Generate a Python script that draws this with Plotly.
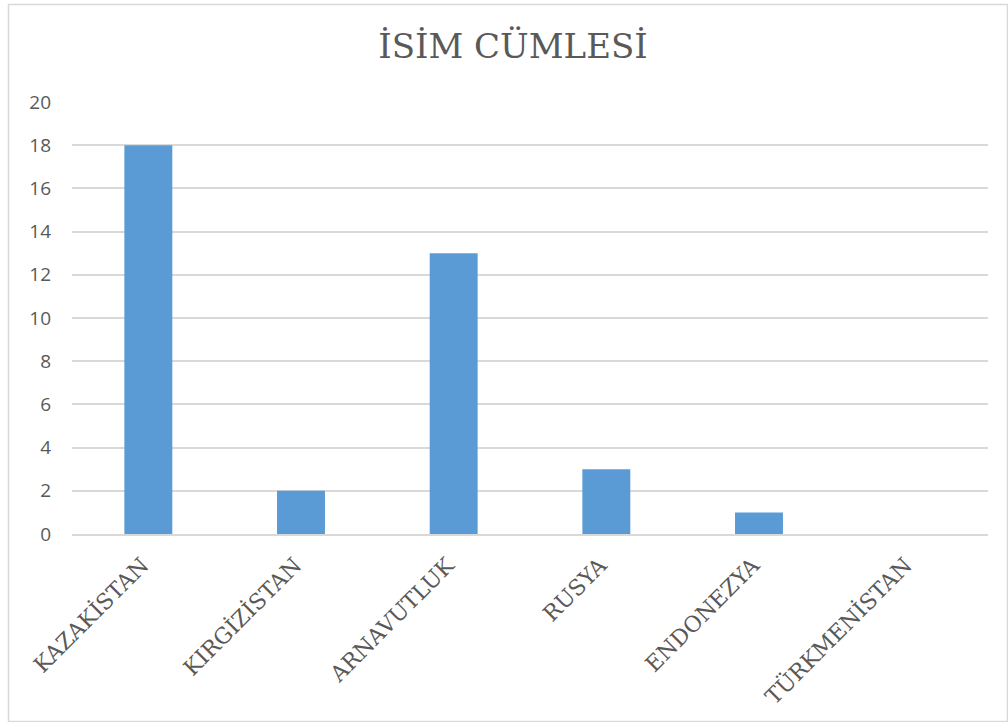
import plotly.graph_objects as go

categories = ["KAZAKİSTAN", "KIRGİZİSTAN", "ARNAVUTLUK", "RUSYA", "ENDONEZYA", "TÜRKMENİSTAN"]
values = [18, 2, 13, 3, 1, 0]
y_ticks = [0, 2, 4, 6, 8, 10, 12, 14, 16, 18, 20]
title_text = "İSİM CÜMLESİ"

W, H = 1008, 722
L, R, T, B = 72, 20, 102, 188
pw, ph = W - L - R, H - T - B

fig = go.Figure(go.Bar(
    x=categories, y=values,
    marker=dict(color="#5B9BD5", line=dict(width=0)),
    width=0.314,
))

def px_x(x):
    return (x - L) / pw

def px_y(y):
    return (H - B - y) / ph

fig.update_layout(
    width=W, height=H,
    margin=dict(l=L, r=R, t=T, b=B),
    paper_bgcolor="white", plot_bgcolor="white",
    title=dict(text=title_text, x=(513 - L) / pw, xref="paper", xanchor="center",
               y=1 - 46 / H, yanchor="middle",
               font=dict(family="DejaVu Serif", size=34, color="#595959")),
    showlegend=False,
    shapes=[dict(type="rect", xref="paper", yref="paper",
                 x0=px_x(8.5), x1=px_x(1007.5), y0=px_y(721.5), y1=px_y(4.5),
                 line=dict(color="#D9D9D9", width=1.5), fillcolor="rgba(0,0,0,0)", layer="below")],
)
fig.update_yaxes(range=[0, 20], tickvals=y_ticks, showgrid=True, gridcolor="#D9D9D9", gridwidth=1.5,
                 zeroline=False, showline=False, ticks="", ticklabelstandoff=20,
                 tickfont=dict(family="Open Sans", size=19, color="#595959"))
fig.update_xaxes(showgrid=False, showline=True, linecolor="#D9D9D9", linewidth=1.5,
                 ticks="", tickangle=-45, ticklabelstandoff=8, ticklabelshift=-6,
                 tickfont=dict(family="DejaVu Serif", size=22, color="#595959"))

fig.write_html("out.html")
